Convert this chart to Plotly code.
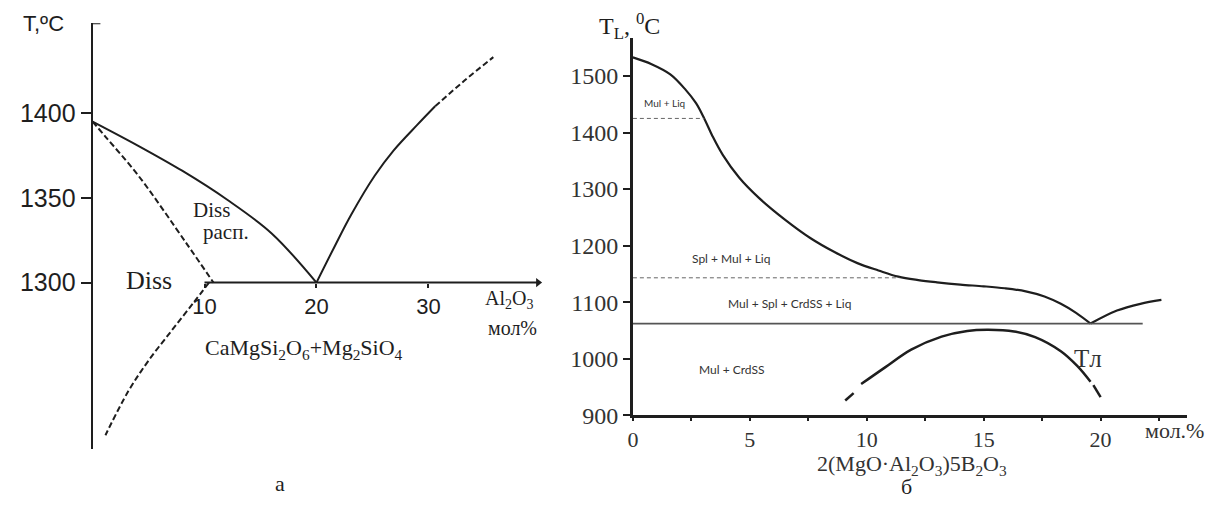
import plotly.graph_objects as go

# ---------- panel "а": CaMgSi2O6 – Mg2SiO4 – Al2O3 ----------
liq_left_x = [0, 4, 8, 12, 16, 20]
liq_left_t = [1395, 1381, 1366, 1349, 1329, 1300]
liq_right_x = [20, 21.6, 23.1, 25.2, 26.9, 29.0, 30.6]
liq_right_t = [1300, 1321, 1340, 1363, 1378, 1393, 1404]
liq_ext_x = [30.6, 33.2, 35.8]
liq_ext_t = [1404, 1419, 1433]
solvus_x = [0, 1.16, 4.1, 8.4, 10.8]
solvus_t = [1395, 1386, 1363, 1323, 1300]
solvus_low_x = [10.4, 9.0, 7.1, 5.0, 3.2, 1.15]
solvus_low_t = [1300, 1288, 1272, 1254, 1236, 1210]
eutectic_a_x = [10, 39.8]
eutectic_a_t = 1300
a_xticks = [10, 20, 30]
a_yticks = [1300, 1350, 1400]
a_xrange = [0, 41]
a_yrange = [1202, 1453]

# ---------- panel "б": 2(MgO·Al2O3)5B2O3 section ----------
tliq_x = [0, 0.8, 1.6, 2.25, 2.7, 3.05, 3.4, 3.85, 4.55, 5.4, 6.5, 7.6, 8.6, 9.6,
          10.5, 11.35, 12.2, 13.0, 14.0, 15.0, 15.9, 16.8, 17.6, 18.3, 18.95, 19.57]
tliq_t = [1533, 1521, 1503, 1476, 1452, 1425, 1394, 1360, 1320, 1284, 1246, 1213, 1189, 1169,
          1156, 1145, 1139, 1135, 1131, 1128, 1124.5, 1119, 1110, 1097, 1081, 1062]
tliq_right_x = [19.57, 20.7, 21.7, 22.6]
tliq_right_t = [1062, 1085, 1097, 1104]
tl_x = [9.76, 10.8, 11.9, 13.2, 14.3, 15.2, 16.3, 17.2, 18.3, 19.0, 19.57]
tl_t = [955, 985, 1016, 1039, 1049, 1051, 1048, 1038, 1013, 987, 959]
tl_left_x = [9.08, 9.44]
tl_left_t = [926, 939]
tl_right_x = [19.69, 20.0]
tl_right_t = [953, 932]
solidus_b = 1062
solidus_b_x = [0, 21.8]
mul_liq_t = 1425
mul_liq_x = [0, 3.05]
spl_t = 1143
spl_x = [0, 11.4]
b_xticks = [0, 5, 10, 15, 20]
b_xminor = [2.5, 7.5, 12.5, 17.5, 22.5]
b_yticks = [900, 1000, 1100, 1200, 1300, 1400, 1500]
b_xrange = [0, 23.7]
b_yrange = [900, 1568]

W, H = 1214, 510
INK = "#1e1e1e"
SERIF = "Liberation Serif, Times New Roman, serif"
SANS = "Liberation Sans, Arial, sans-serif"
LABEL = "Lato, Noto Sans, sans-serif"

fig = go.Figure()


def line(x, y, xa, ya, width=2, dash="solid", color=INK, smooth=True):
    fig.add_trace(go.Scatter(
        x=x, y=y, xaxis=xa, yaxis=ya, mode="lines",
        line=dict(color=color, width=width, dash=dash,
                  shape="spline" if smooth else "linear", smoothing=1.0),
        hoverinfo="skip", showlegend=False, cliponaxis=False))


# panel а curves
line(liq_left_x, liq_left_t, "x", "y")
line(liq_right_x, liq_right_t, "x", "y")
line(liq_ext_x, liq_ext_t, "x", "y", dash="6px,3px")
line(solvus_x, solvus_t, "x", "y", dash="6px,3px")
line(solvus_low_x, solvus_low_t, "x", "y", dash="6px,3px")
line(eutectic_a_x, [eutectic_a_t] * 2, "x", "y", smooth=False)
line([-0.4, 0.7], [a_yrange[1]] * 2, "x", "y", smooth=False)
fig.add_trace(go.Scatter(
    x=[eutectic_a_x[1]], y=[eutectic_a_t], xaxis="x", yaxis="y", mode="markers",
    marker=dict(symbol="triangle-right", size=8, color=INK),
    hoverinfo="skip", showlegend=False, cliponaxis=False))

# panel б curves
line(tliq_x, tliq_t, "x2", "y2", width=2.2)
line(tliq_right_x, tliq_right_t, "x2", "y2", width=2.2)
line(tl_x, tl_t, "x2", "y2", width=2.5)
line(tl_left_x, tl_left_t, "x2", "y2", width=2.5, smooth=False)
line(tl_right_x, tl_right_t, "x2", "y2", width=2.5, smooth=False)
line(solidus_b_x, [solidus_b] * 2, "x2", "y2", width=1.6, color="#555", smooth=False)
line(mul_liq_x, [mul_liq_t] * 2, "x2", "y2", width=1, dash="4px,3px", color="#666", smooth=False)
line(spl_x, [spl_t] * 2, "x2", "y2", width=1, dash="4px,3px", color="#666", smooth=False)


def dom_x(p0, p1):
    return [p0 / W, p1 / W]


def dom_y(top, bottom):
    return [1 - bottom / H, 1 - top / H]


ya_dom = dom_y(23.8, 460.5)
pos_1300 = ya_dom[0] + (eutectic_a_t - a_yrange[0]) / (a_yrange[1] - a_yrange[0]) * (ya_dom[1] - ya_dom[0])

fig.update_layout(
    width=W, height=H, margin=dict(l=0, r=0, t=0, b=0),
    paper_bgcolor="white", plot_bgcolor="rgba(0,0,0,0)",
    xaxis=dict(domain=dom_x(87, 87 + 41 * 11.25), range=a_xrange, anchor="free",
               position=pos_1300, showline=False, showgrid=False, zeroline=False,
               tickvals=a_xticks, ticks="outside", ticklen=4, tickwidth=2, tickcolor=INK,
               tickfont=dict(family=SANS, size=22, color=INK)),
    yaxis=dict(domain=ya_dom, range=a_yrange, anchor="x", showline=True,
               linewidth=2, linecolor=INK, showgrid=False, zeroline=False,
               tickvals=a_yticks, ticks="outside", ticklen=10, tickwidth=2, tickcolor=INK,
               tickfont=dict(family=SANS, size=25, color=INK)),
    xaxis2=dict(domain=dom_x(630, 1187), range=b_xrange, anchor="y2", showline=True,
                linewidth=2.5, linecolor=INK, showgrid=False, zeroline=False,
                tickvals=b_xticks, ticks="outside", ticklen=3,
                tickwidth=2, tickcolor=INK,
                minor=dict(tickvals=b_xminor, ticks="outside", ticklen=3,
                           tickwidth=2, tickcolor=INK, showgrid=False),
                tickfont=dict(family=SERIF, size=22, color="#333")),
    yaxis2=dict(domain=dom_y(38.6, 426), range=b_yrange, anchor="x2", showline=True,
                linewidth=2.5, linecolor=INK, showgrid=False, zeroline=False,
                tickvals=b_yticks, ticks="outside", ticklen=7, tickwidth=2, tickcolor=INK,
                tickfont=dict(family=SERIF, size=24, color="#333")),
)


def note(text, x, y, xref, yref, family, size, color=INK, xanchor="center"):
    fig.add_annotation(text=text, x=x, y=y, xref=xref, yref=yref, showarrow=False,
                       xanchor=xanchor, yanchor="middle",
                       font=dict(family=family, size=size, color=color))


# panel а texts
note("T,ºC", 38 / W, 1 - 24 / H, "paper", "paper", SANS, 22)
note("Diss", 5.0, 1301, "x", "y", SERIF, 26)
note("Diss", 10.6, 1343, "x", "y", SERIF, 21)
note("расп.", 11.9, 1330, "x", "y", SERIF, 21)
note("CaMgSi<sub>2</sub>O<sub>6</sub>+Mg<sub>2</sub>SiO<sub>4</sub>", 18.9, 1261, "x", "y", SERIF, 22)
note("Al<sub>2</sub>O<sub>3</sub>", 37.2, 1290, "x", "y", SERIF, 20)
note("мол%", 37.5, 1273, "x", "y", SERIF, 20)
note("а", 275 / W, 1 - 496 / H, "paper", "paper", SERIF, 22)

# panel б texts
note("T<sub>L</sub>, <sup>0</sup>C", 627 / W, 1 - 27 / H, "paper", "paper", SERIF, 24)
note("Mul + Liq", 1.36, 1452, "x2", "y2", LABEL, 10, "#333")
note("Spl + Mul + Liq", 4.2, 1177, "x2", "y2", LABEL, 12, "#333")
note("Mul + Spl + CrdSS + Liq", 6.7, 1097, "x2", "y2", LABEL, 12, "#333")
note("Mul + CrdSS", 4.2, 981, "x2", "y2", LABEL, 12, "#333")
note("Tл", 19.45, 1001, "x2", "y2", SERIF, 25, "#333")
note("мол.%", 1174 / W, 1 - 442 / H, "paper", "paper", SERIF, 22, "#333")
note("2(MgO·Al<sub>2</sub>O<sub>3</sub>)5B<sub>2</sub>O<sub>3</sub>", 910 / W, 1 - 477 / H,
     "paper", "paper", SERIF, 22, "#333")
note("б", 905 / W, 1 - 499 / H, "paper", "paper", SERIF, 22)

fig.write_html("out.html")
